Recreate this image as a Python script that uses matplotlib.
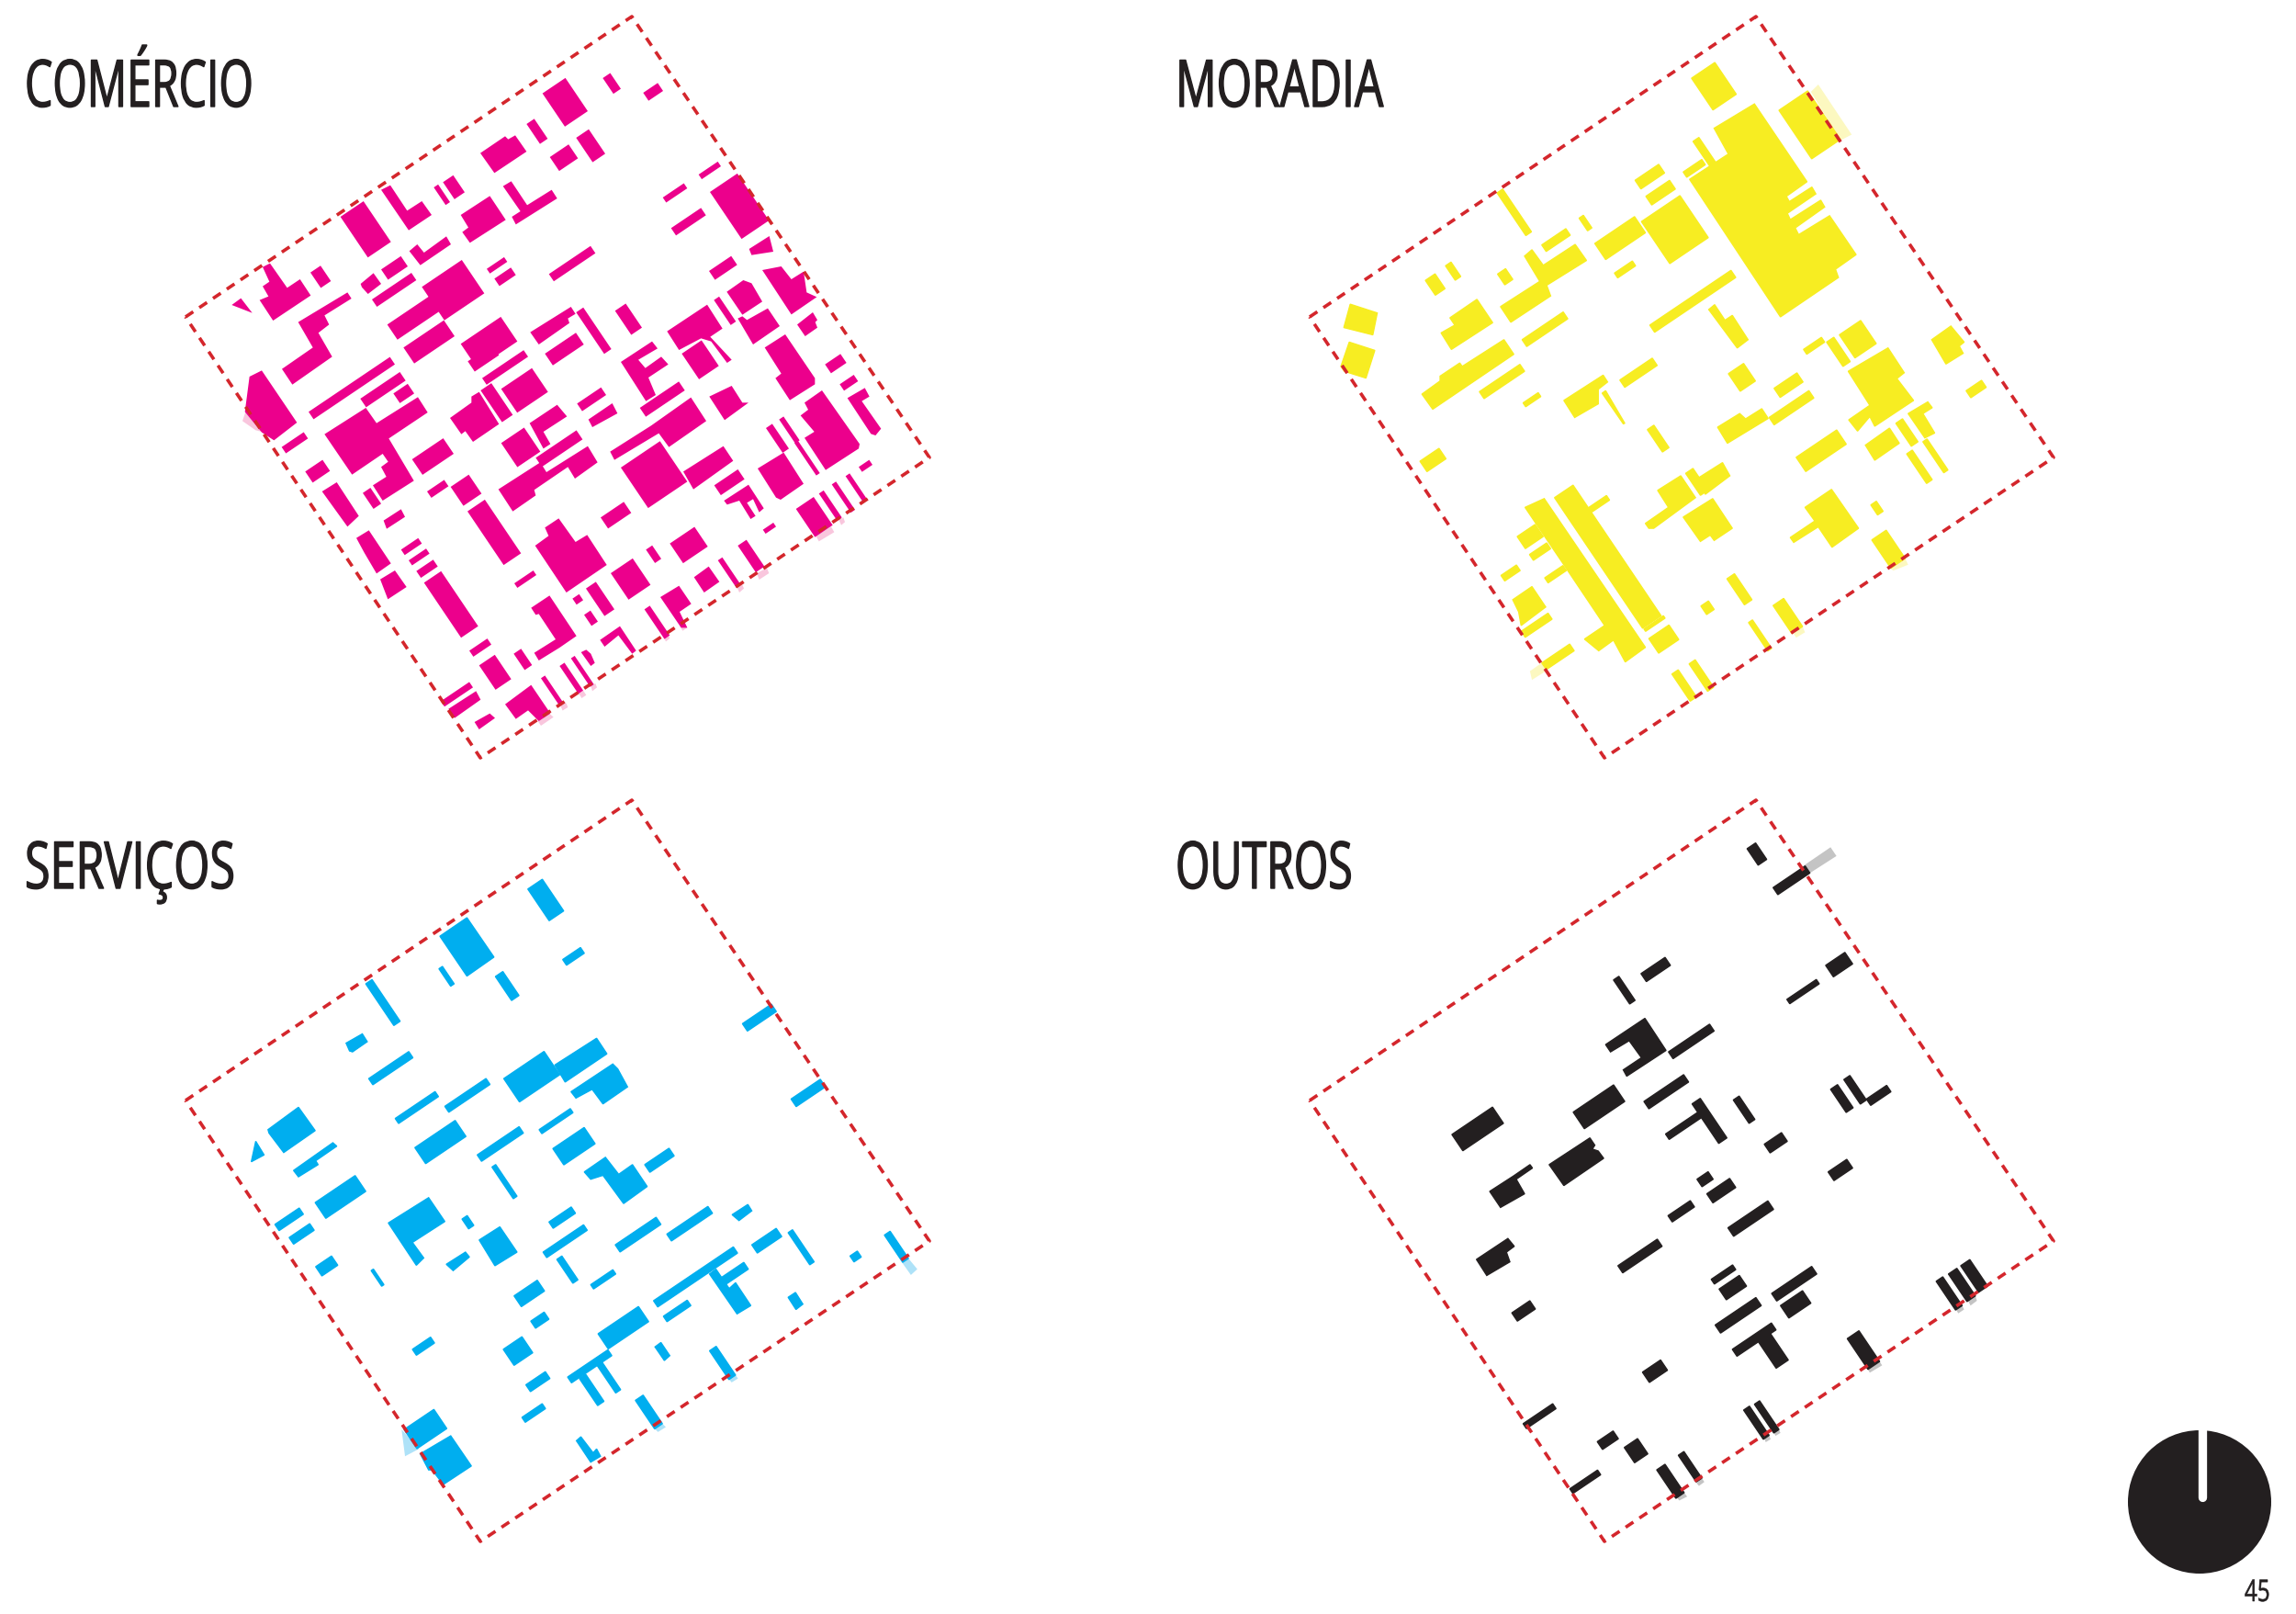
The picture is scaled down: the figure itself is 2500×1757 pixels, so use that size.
import numpy as np
import matplotlib
matplotlib.use("Agg")
import matplotlib.pyplot as plt
from matplotlib.patches import Polygon, Circle
from matplotlib.patheffects import AbstractPathEffect
from matplotlib.transforms import Affine2D

# Les valeurs sont lues sur des recadrages de la carte.
# Rect = coin gauche + coin droit (x1, y1, x2, y2) dans le repere tourne de l'ilot
ANGLE = np.radians(34)

TITLES = ["COMÉRCIO", "MORADIA", "SERVIÇOS", "OUTROS"]
PAGE_NUMBER = "45"

FRAME_1 = [(202, 345), (688, 18), (1012, 498), (523, 825)]
FRAME_OFFSETS = [(0, 0), (1224, 0), (0, 853), (1224, 853)]

PINK = "#ec008c"
PINK_PALE = "#f9c6dd"
YELLOW = "#f7ed22"
YELLOW_PALE = "#fcf8c0"
BLUE = "#00aeef"
BLUE_PALE = "#aee2f8"
BLACK = "#231f20"
GREY_PALE = "#c4c4c4"
RED = "#d4262c"

# --- comercio, recadrage haut gauche (origine 190,10 ; x3)
PINK_NW_RECTS = [
    (1202, 275, 1350, 333), (1150, 375, 1219, 423), (1226, 483, 1318, 487),
    (847, 582, 900, 630), (877, 565, 948, 598), (542, 678, 707, 760),
    (675, 850, 762, 840), (645, 948, 790, 885), (1020, 848, 1087, 825),
    (1045, 880, 1115, 868), (1223, 865, 1375, 797), (808, 907, 1012, 928),
    (695, 1030, 868, 985), (748, 1105, 915, 1068), (935, 1093, 1120, 1085),
    (958, 1150, 1060, 1130), (1005, 1205, 1155, 1135), (444, 860, 511, 888),
    (1210, 1125, 1337, 1095), (438, 1315, 720, 1160), (607, 1272, 755, 1213),
    (715, 1255, 783, 1255),
]
PINK_NW_POLYS = [
    [(999, 470), (1080, 415), (1090, 425), (1113, 412), (1150, 465), (1045, 535)],
    [(1073, 578), (1100, 562), (1152, 640), (1232, 590), (1250, 618), (1115, 703), (1102, 678), (1130, 660)],
    [(935, 672), (1030, 610), (1082, 688), (965, 763), (940, 728), (960, 713)],
    [(675, 590), (705, 575), (760, 658), (808, 627), (840, 672), (765, 722)],
    [(767, 790), (793, 768), (815, 795), (888, 742), (903, 768), (803, 836)],
    [(608, 897), (650, 862), (675, 897), (632, 930), (612, 908)],
    [(288, 842), (312, 830), (368, 910), (410, 882), (445, 935), (322, 1017), (278, 950), (307, 938), (288, 905), (310, 890)],
    [(187, 966), (217, 944), (254, 992)],
    [(404, 1022), (565, 925), (578, 945), (490, 1000), (505, 1030), (470, 1057), (515, 1135), (385, 1226), (351, 1175), (452, 1105)],
    [(1162, 1055), (1295, 972), (1310, 995), (1285, 1010), (1290, 1025), (1190, 1095)],
]

# --- comercio, haut droit (origine 600,10)
PINK_NE_RECTS = [
    (82, 420, 177, 472), (169, 225, 228, 260), (301, 273, 366, 267),
    (482, 540, 555, 513), (365, 615, 445, 585), (392, 715, 506, 673),
    (519, 597, 712, 690), (516, 855, 608, 835), (532, 950, 604, 1020),
    (209, 985, 297, 1040), (82, 990, 197, 1110), (427, 1125, 548, 1165),
    (290, 1302, 437, 1245), (895, 1160, 965, 1155), (943, 1225, 1003, 1215),
]
PINK_NE_POLYS = [
    [(647, 783), (713, 741), (726, 792), (655, 803)],
    [(690, 852), (752, 840), (785, 882), (825, 857), (835, 925), (868, 940), (785, 997)],
    [(574, 923), (628, 885), (655, 895), (690, 955), (625, 998)],
    [(610, 1010), (625, 1003), (640, 1015), (708, 977), (747, 1035), (660, 1095)],
    [(804, 1030), (855, 990), (870, 1015), (863, 1022), (870, 1040), (830, 1068)],
    [(379, 1052), (510, 965), (560, 1043), (520, 1070), (590, 1145), (575, 1155), (523, 1085), (490, 1075), (418, 1113)],
    [(228, 1152), (330, 1085), (348, 1108), (285, 1145), (308, 1172), (360, 1135), (383, 1160), (318, 1203), (342, 1260), (310, 1280)],
    [(698, 1105), (765, 1062), (862, 1205), (862, 1225), (780, 1277), (733, 1205), (752, 1190)],
]

# --- comercio, bas gauche (origine 190,420)
PINK_SW_RECTS = [
    (350, 200, 436, 172), (427, 280, 508, 278), (615, 350, 675, 385),
    (776, 240, 912, 222), (825, 345, 895, 328), (1000, 15, 1105, 95),
    (1067, 10, 1220, 20), (1180, 235, 1333, 175), (1067, 187, 1195, 215),
    (902, 330, 1003, 352), (957, 410, 1132, 547), (740, 535, 808, 515),
    (765, 570, 833, 548), (790, 605, 860, 590), (815, 643, 992, 785),
    (1110, 645, 1182, 618), (963, 865, 1035, 845), (1108, 875, 1168, 912),
    (995, 913, 1100, 958), (870, 1030, 975, 985), (1197, 955, 1270, 1035),
]
PINK_SW_POLYS = [
    [(245, -30), (285, -50), (400, 120), (325, 178), (285, 152), (230, 85)],
    [(490, 158), (625, 72), (660, 122), (795, 37), (827, 87), (700, 172), (782, 310), (680, 375), (648, 325), (692, 297), (675, 265), (698, 248), (680, 222), (580, 290)],
    [(482, 345), (530, 315), (602, 425), (565, 460)],
    [(683, 440), (740, 403), (753, 428), (693, 467)],
    [(900, 105), (970, 55), (970, 35), (995, 20), (1060, 125), (975, 183), (950, 148), (937, 158)],
    [(1160, 122), (1250, 62), (1282, 100), (1205, 150), (1228, 190), (1205, 205)],
    [(1058, 338), (1195, 250), (1215, 282), (1350, 197), (1382, 250), (1308, 303), (1285, 265), (1175, 340), (1180, 358), (1105, 410)],
    [(594, 497), (635, 472), (707, 580), (660, 613), (620, 545)],
    [(672, 632), (720, 603), (758, 657), (697, 697)],
    [(1178, 522), (1222, 490), (1210, 463), (1255, 433), (1310, 510), (1348, 487), (1412, 585), (1280, 675)],
    [(1165, 725), (1225, 685), (1313, 817), (1258, 855), (1190, 897), (1175, 872), (1245, 828), (1190, 745), (1180, 748)],
    [(895, 1055), (985, 997), (1000, 1025), (915, 1085)],
    [(980, 1098), (1030, 1070), (1047, 1085), (995, 1122)],
    [(1080, 1040), (1165, 977), (1228, 1070), (1190, 1095), (1155, 1060), (1115, 1088)],
]
PINK_SW_PALE = [
    [(232, 85), (222, 115), (265, 145), (285, 150)],
    [(1187, 1095), (1222, 1068), (1238, 1082), (1197, 1110)],
    [(1262, 1045), (1280, 1037), (1285, 1050), (1268, 1060)],
]

# --- comercio, bas droit (origine 600,420)
PINK_SE_RECTS = [
    (70, 695, 105, 700), (28, 915, 105, 995), (65, 890, 140, 975),
    (85, 58, 180, 30), (533, 325, 632, 305), (692, 470, 735, 460),
    (702, 138, 777, 205), (745, 110, 812, 178), (795, 187, 878, 285),
    (228, 267, 445, 313), (1005, 265, 1050, 258), (800, 402, 920, 455),
    (875, 352, 950, 430), (917, 322, 993, 405), (962, 295, 1032, 370),
    (610, 522, 697, 590), (545, 570, 620, 650), (388, 515, 512, 525),
    (162, 430, 262, 415), (310, 535, 360, 565), (195, 612, 325, 650),
    (114, 662, 207, 730), (108, 748, 153, 770), (305, 730, 388, 815),
]
PINK_SE_POLYS = [
    [(98, 870), (115, 862), (130, 875), (143, 905), (130, 915)],
    [(122, 110), (200, 57), (217, 90), (135, 135)],
    [(193, 215), (327, 130), (457, 38), (507, 115), (385, 200), (352, 155), (207, 242)],
    [(432, 280), (563, 197), (595, 245), (465, 338)],
    [(565, 375), (645, 323), (695, 400), (680, 413), (660, 370), (640, 382), (668, 425), (652, 435), (615, 375), (575, 388)],
    [(815, 97), (840, 78), (828, 55), (885, 15), (1008, 190), (1005, 205), (897, 275), (828, 170), (860, 150)],
    [(968, 40), (1025, 7), (1040, 35), (1015, 50), (1078, 140), (1060, 162), (1045, 157)],
    [(675, 270), (760, 218), (825, 320), (750, 372), (735, 365)],
    [(517, 35), (590, 0), (625, 55), (645, 55), (567, 112)],
    [(467, 625), (515, 590), (550, 640), (500, 675)],
    [(357, 690), (418, 653), (458, 712), (420, 738), (445, 790), (425, 790)],
    [(160, 830), (225, 785), (278, 865), (265, 875), (220, 815), (175, 852)],
]
PINK_SE_PALE = [
    [(865, 490), (915, 460), (925, 478), (875, 508)],
    [(940, 437), (955, 430), (960, 445), (948, 455)],
    [(672, 612), (705, 595), (712, 612), (680, 633)],
    [(608, 658), (625, 650), (630, 662), (615, 675)],
    [(420, 783), (438, 775), (445, 790), (430, 800)],
    [(368, 820), (382, 812), (388, 825), (375, 835)],
    [(90, 1003), (105, 995), (115, 1010), (100, 1020)],
    [(130, 980), (145, 972), (150, 985), (135, 997)],
    [(30, 1040), (45, 1030), (52, 1048), (38, 1060)],
]

# --- moradia (origine 1421,10 ; x1.87 / x1.89)
YELLOW_RECTS = [
    (787, 142, 878, 175), (965, 208, 1090, 268), (790, 272, 836, 315),
    (770, 335, 815, 320), (672, 352, 732, 337), (694, 385, 754, 370),
    (685, 437, 821, 470), (590, 482, 693, 460), (558, 430, 584, 450),
    (391, 378, 461, 458), (482, 485, 540, 465), (392, 545, 423, 556),
    (630, 543, 673, 528), (702, 650, 877, 552), (245, 558, 285, 575),
    (286, 528, 317, 550), (442, 680, 535, 637), (355, 787, 447, 745),
    (444, 810, 480, 797), (641, 763, 717, 733), (862, 750, 917, 765),
    (697, 865, 741, 902), (955, 780, 1014, 767), (945, 840, 1036, 800),
    (1015, 700, 1058, 685), (1062, 685, 1110, 725), (1088, 670, 1163, 688),
    (1346, 785, 1387, 778), (1000, 922, 1102, 895), (1203, 852, 1248, 890),
    (1258, 890, 1309, 948), (1225, 915, 1277, 968), (234, 930, 287, 925),
    (508, 1005, 725, 1248), (578, 1025, 620, 1010), (432, 1085, 485, 1085),
    (457, 1122, 500, 1110), (488, 1170, 532, 1155), (399, 1165, 438, 1155),
    (440, 1280, 503, 1255), (482, 1345, 548, 1320), (700, 1295, 761, 1297),
    (690, 1275, 733, 1253), (775, 955, 820, 990), (1152, 1020, 1177, 1033),
    (1154, 1092, 1222, 1130), (859, 1172, 910, 1215), (806, 1228, 833, 1235),
    (953, 1227, 1013, 1270), (903, 1262, 950, 1315), (747, 1368, 797, 1415),
    (782, 1347, 832, 1395),
]
YELLOW_POLYS = [
    [(833, 245), (915, 195), (1022, 355), (980, 385), (986, 396), (1032, 366), (1040, 380), (982, 420), (988, 433), (1050, 393), (1058, 407), (998, 450), (1005, 464), (1068, 425), (1122, 505), (1080, 535), (1086, 552), (968, 633), (783, 350), (862, 298)],
    [(447, 508), (462, 495), (485, 527), (550, 484), (573, 517), (492, 568), (500, 590), (419, 644), (398, 612), (478, 560)],
    [(822, 618), (834, 608), (855, 640), (870, 630), (902, 680), (880, 697)],
    [(295, 635), (350, 597), (382, 645), (298, 700), (277, 666), (305, 650)],
    [(92, 607), (147, 625), (138, 670), (79, 655)],
    [(90, 685), (142, 702), (124, 759), (80, 745), (73, 735)],
    [(238, 792), (275, 765), (275, 755), (315, 728), (320, 735), (405, 680), (425, 710), (260, 823)],
    [(527, 805), (607, 753), (616, 767), (597, 782), (597, 812), (549, 840)],
    [(605, 790), (612, 785), (651, 852), (648, 853)],
    [(840, 860), (885, 832), (897, 843), (930, 822), (943, 842), (860, 893)],
    [(1106, 745), (1187, 697), (1220, 748), (1205, 760), (1239, 805), (1160, 858), (1150, 838), (1125, 868), (1107, 845), (1150, 815)],
    [(1276, 680), (1315, 652), (1342, 685), (1332, 693), (1340, 708), (1305, 730)],
    [(1141, 897), (1190, 862), (1210, 893), (1160, 928)],
    [(1228, 832), (1268, 808), (1277, 820), (1258, 832), (1282, 872), (1262, 882)],
    [(448, 1025), (487, 1007), (693, 1313), (652, 1343), (628, 1298), (598, 1320), (569, 1296), (610, 1268), (525, 1140)],
    [(423, 1215), (462, 1188), (490, 1230), (440, 1268), (435, 1240)],
    [(718, 990), (765, 960), (795, 1005), (710, 1068), (700, 1068), (693, 1058), (740, 1025)],
    [(800, 965), (850, 933), (865, 960), (815, 998)],
    [(770, 1045), (830, 1007), (870, 1068), (833, 1093), (825, 1082), (805, 1095)],
    [(1018, 1025), (1072, 988), (1127, 1068), (1073, 1107), (1045, 1065), (995, 1097), (988, 1087), (1038, 1053)],
]
YELLOW_PALE_POLYS = [
    [(1030, 170), (1045, 155), (1113, 258), (1090, 270)],
    [(458, 1362), (482, 1345), (490, 1362), (462, 1380)],
    [(1190, 1150), (1222, 1130), (1228, 1143), (1198, 1155)],
    [(995, 1285), (1013, 1270), (1018, 1282), (1000, 1293)],
]

# --- servicos (origine 191.3,871)
BLUE_RECTS = [
    (717, 183, 790, 228), (788, 328, 832, 315), (536, 347, 567, 378),
    (651, 363, 699, 402), (387, 378, 457, 455), (393, 573, 483, 530),
    (668, 573, 782, 565), (1154, 460, 1223, 435), (1253, 615, 1323, 590),
    (447, 655, 535, 610), (548, 630, 640, 585), (740, 678, 809, 643),
    (487, 715, 591, 692), (614, 730, 708, 685), (768, 717, 854, 707),
    (955, 750, 1015, 732), (644, 755, 695, 815), (284, 828, 387, 805),
    (202, 873, 260, 852), (231, 900, 282, 885), (583, 862, 607, 875),
    (760, 868, 814, 850), (748, 930, 838, 885), (895, 915, 988, 873),
    (1000, 893, 1093, 850), (1173, 915, 1234, 898), (1247, 890, 1300, 950),
    (1443, 895, 1492, 943), (1373, 938, 1396, 940), (285, 960, 330, 957),
    (398, 968, 424, 997), (776, 945, 819, 987), (845, 997, 896, 975),
    (689, 1020, 751, 1010), (723, 1072, 760, 1068), (973, 1030, 1144, 932),
    (1110, 983, 1166, 965), (993, 1062, 1049, 1040), (860, 1098, 963, 1073),
    (482, 1130, 527, 1117), (667, 1130, 727, 1137), (1087, 1133, 1140, 1183),
    (713, 1203, 762, 1190), (798, 1187, 888, 1143), (822, 1190, 872, 1237),
    (858, 1163, 906, 1213), (705, 1270, 753, 1252), (936, 1235, 991, 1283),
    (465, 1295, 552, 1293),
]
BLUE_POLYS = [
    [(538, 280), (593, 242), (648, 323), (593, 362)],
    [(347, 500), (380, 481), (390, 497), (360, 518), (354, 516)],
    [(772, 545), (857, 490), (878, 522), (793, 580)],
    [(805, 600), (890, 543), (900, 553), (920, 590), (870, 625), (848, 595), (815, 613)],
    [(188, 678), (250, 632), (284, 680), (220, 725), (190, 685)],
    [(163, 702), (180, 730), (154, 744)],
    [(240, 762), (320, 705), (328, 712), (285, 742), (290, 750), (250, 775)],
    [(832, 765), (875, 735), (902, 770), (930, 750), (960, 795), (912, 830), (870, 772), (845, 780)],
    [(433, 870), (515, 818), (548, 867), (482, 910), (505, 942), (490, 957)],
    [(618, 905), (660, 878), (695, 930), (650, 958)],
    [(551, 955), (590, 930), (598, 940), (565, 968)],
    [(1133, 853), (1165, 832), (1173, 845), (1147, 865)],
    [(1087, 975), (1100, 965), (1127, 1005), (1140, 993), (1171, 1040), (1143, 1057)],
    [(1247, 1023), (1262, 1013), (1277, 1037), (1263, 1048)],
    [(976, 1125), (988, 1116), (1006, 1143), (995, 1153)],
    [(498, 1345), (560, 1308), (602, 1370), (545, 1408), (522, 1378), (515, 1378)],
    [(816, 1318), (825, 1310), (850, 1343), (857, 1335), (865, 1350), (845, 1362)],
]
BLUE_PALE_POLYS = [
    [(1478, 950), (1492, 943), (1510, 965), (1497, 977)],
    [(460, 1295), (495, 1335), (467, 1350)],
    [(1127, 1192), (1140, 1183), (1145, 1190), (1132, 1198)],
    [(975, 1293), (991, 1283), (998, 1290), (982, 1300)],
]

# --- outros (origine 1421,871)
BLACK_RECTS = [
    (900, 100, 940, 122), (953, 180, 1028, 150), (1060, 340, 1115, 337),
    (981, 410, 1047, 378), (684, 357, 744, 340), (628, 370, 672, 412),
    (740, 518, 833, 475), (546, 642, 651, 620), (690, 620, 781, 580),
    (788, 625, 859, 695), (734, 687, 812, 650), (872, 617, 916, 657),
    (935, 708, 982, 702), (1070, 595, 1116, 633), (1097, 575, 1143, 617),
    (1143, 615, 1193, 600), (1065, 765, 1115, 757), (299, 688, 404, 665),
    (798, 780, 831, 780), (818, 810, 877, 797), (739, 855, 793, 837),
    (861, 880, 954, 842), (637, 958, 727, 918), (421, 1055, 469, 1047),
    (827, 986, 877, 966), (843, 1006, 899, 1000), (950, 1015, 1042, 975),
    (968, 1040, 1030, 1035), (835, 1080, 929, 1040), (870, 1130, 959, 1090),
    (920, 1110, 984, 1152), (1104, 1108, 1170, 1155), (687, 1177, 738, 1173),
    (1285, 990, 1338, 1040), (1310, 975, 1365, 1020), (1335, 958, 1390, 1000),
    (893, 1255, 945, 1307), (915, 1243, 965, 1295), (444, 1283, 511, 1252),
    (595, 1320, 638, 1314), (650, 1332, 698, 1345), (539, 1417, 602, 1388),
    (716, 1378, 772, 1425), (760, 1348, 808, 1395),
]
BLACK_POLYS = [
    [(612, 503), (692, 449), (735, 515), (655, 568), (648, 555), (685, 530), (660, 495), (622, 518)],
    [(497, 750), (580, 695), (590, 710), (585, 718), (597, 722), (608, 737), (527, 793)],
    [(376, 805), (425, 773), (458, 750), (463, 757), (430, 780), (447, 810), (398, 838)],
    [(349, 945), (413, 902), (426, 918), (410, 930), (417, 950), (370, 978)],
]
BLACK_PALE_POLYS = [
    [(1015, 135), (1070, 97), (1082, 115), (1025, 152)],
    [(1145, 1170), (1170, 1155), (1175, 1163), (1150, 1178)],
    [(1325, 1047), (1338, 1040), (1342, 1048), (1330, 1056)],
    [(1350, 1030), (1365, 1020), (1368, 1030), (1355, 1040)],
    [(935, 1313), (945, 1307), (948, 1315), (938, 1321)],
    [(955, 1302), (965, 1295), (968, 1302), (958, 1308)],
    [(757, 1435), (772, 1425), (778, 1433), (762, 1441)],
    [(797, 1405), (808, 1395), (813, 1403), (802, 1411)],
]


class Squeeze(AbstractPathEffect):
    # police condensee absente : on serre le texte et on l'epaissit un peu
    def __init__(self, factor, stroke):
        super().__init__()
        self.factor = factor
        self.stroke = stroke

    def draw_path(self, renderer, gc, tpath, affine, rgbFace=None):
        x0 = affine.get_matrix()[0, 2]
        squeeze = Affine2D().translate(-x0, 0).scale(self.factor, 1).translate(x0, 0)
        gc0 = renderer.new_gc()
        gc0.copy_properties(gc)
        gc0.set_linewidth(self.stroke)
        gc0.set_foreground(rgbFace)
        renderer.draw_path(gc0, tpath, affine + squeeze, rgbFace)
        gc0.restore()


def to_sheet(points, origin, scale):
    pts = np.asarray(points, dtype=float)
    return pts / np.array(scale) + np.array(origin)


def rect_corners(p1, p2):
    # rectangle dans le repere tourne a partir de deux coins opposes
    a = np.array([np.cos(ANGLE), -np.sin(ANGLE)])
    b = np.array([np.sin(ANGLE), np.cos(ANGLE)])
    d = p2 - p1
    return [p1, p1 + a * d.dot(a), p2, p1 + b * d.dot(b)]


def draw_blocks(ax, rects, polys, pale, origin, scale, color, pale_color, grow=0.0):
    for poly in pale:
        ax.add_patch(Polygon(to_sheet(poly, origin, scale), closed=True, fc=pale_color, ec="none", zorder=1))
    for r in rects:
        p = to_sheet([r[:2], r[2:]], origin, scale)
        ax.add_patch(Polygon(rect_corners(p[0], p[1]), closed=True, fc=color, ec=color, lw=grow, zorder=2))
    for poly in polys:
        ax.add_patch(Polygon(to_sheet(poly, origin, scale), closed=True, fc=color, ec=color, lw=grow, zorder=2))


fig = plt.figure(figsize=(25, 17.57), dpi=100)
ax = fig.add_axes([0, 0, 1, 1])
ax.set_xlim(0, 2500)
ax.set_ylim(1757, 0)
ax.axis("off")

draw_blocks(ax, PINK_NW_RECTS, PINK_NW_POLYS, [], (190, 10), 3, PINK, PINK_PALE)
draw_blocks(ax, PINK_NE_RECTS, PINK_NE_POLYS, [], (600, 10), 3, PINK, PINK_PALE)
draw_blocks(ax, PINK_SW_RECTS, PINK_SW_POLYS, PINK_SW_PALE, (190, 420), 3, PINK, PINK_PALE)
draw_blocks(ax, PINK_SE_RECTS, PINK_SE_POLYS, PINK_SE_PALE, (600, 420), 3, PINK, PINK_PALE)
draw_blocks(ax, YELLOW_RECTS, YELLOW_POLYS, YELLOW_PALE_POLYS, (1421, 10), (1.87, 1.89), YELLOW, YELLOW_PALE, grow=1.0)
draw_blocks(ax, BLUE_RECTS, BLUE_POLYS, BLUE_PALE_POLYS, (191.3, 871), (1.87, 1.89), BLUE, BLUE_PALE, grow=1.0)
draw_blocks(ax, BLACK_RECTS, BLACK_POLYS, BLACK_PALE_POLYS, (1421, 871), (1.87, 1.89), BLACK, GREY_PALE, grow=1.0)

# cadres rouges en pointilles, au-dessus des ilots
for dx, dy in FRAME_OFFSETS:
    xs = [p[0] + dx for p in FRAME_1] + [FRAME_1[0][0] + dx]
    ys = [p[1] + dy for p in FRAME_1] + [FRAME_1[0][1] + dy]
    ax.plot(xs, ys, color=RED, lw=2.6, linestyle=(0, (2.8, 2.2)), dash_capstyle="butt", zorder=3)

# titres
title_x = [27, 1280, 27, 1280]
title_y = [116, 116, 967, 967]
title_squeeze = [0.68, 0.7, 0.71, 0.68]
for label, x, y, sq in zip(TITLES, title_x, title_y, title_squeeze):
    ax.text(x, y, label, fontsize=51, family="Open Sans", color=BLACK, ha="left", va="baseline",
            path_effects=[Squeeze(sq, 1.0)], zorder=4)

# pastille et numero de page
ax.add_patch(Circle((2395, 1635), 78, fc=BLACK, ec="none", zorder=2))
ax.plot([2398, 2398], [1550, 1630], color="white", lw=6.7, solid_capstyle="round", zorder=3)
ax.text(2444, 1743, PAGE_NUMBER, fontsize=23.5, family="Open Sans", color=BLACK, ha="left", va="baseline",
        path_effects=[Squeeze(0.74, 0.4)], zorder=4)

fig.savefig("out.png", dpi=100, facecolor="white")
